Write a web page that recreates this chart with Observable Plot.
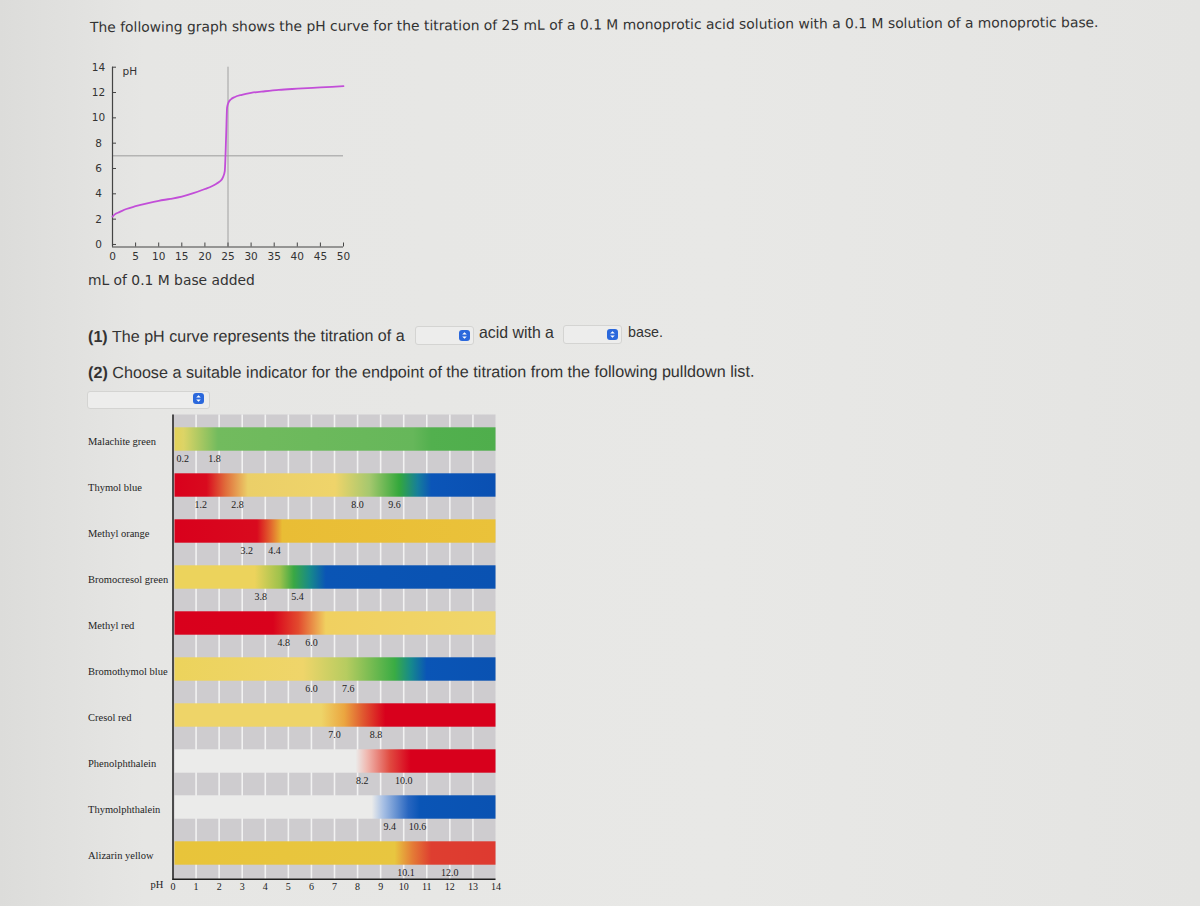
<!DOCTYPE html>
<html>
<head>
<meta charset="utf-8">
<script src="https://cdn.jsdelivr.net/npm/d3@7"></script>
<script src="https://cdn.jsdelivr.net/npm/@observablehq/plot@0.6"></script>
<style>
  html, body { margin: 0; padding: 0; }
  body { width: 1200px; height: 906px; position: relative; overflow: hidden;
         background: linear-gradient(90deg, #dcdcda 0%, #e6e6e4 12%, #e8e8e6 60%, #e4e4e2 100%);
         font-family: "DejaVu Sans", sans-serif; color: #333; }
  .abs { position: absolute; white-space: nowrap; line-height: 1.15; }
  .q { font-family: "Liberation Sans", "Open Sans", sans-serif; color: #333; }
  .box { position: absolute; background: #ededec; border: 1px solid #d4d4d2; border-radius: 3px; }
  .icon { position: absolute; width: 11px; height: 11px; background: #2b68dc; border-radius: 3px; }
  .icon svg { display: block; }
</style>
</head>
<body>
<script>
// ---------------- data ----------------
const titleText = "The following graph shows the pH curve for the titration of 25 mL of a 0.1 M monoprotic acid solution with a 0.1 M solution of a monoprotic base.";
const xAxisTitle = "mL of 0.1 M base added";
const question1a = "The pH curve represents the titration of a";
const question1b = "acid with a";
const question1c = "base.";
const question2 = "Choose a suitable indicator for the endpoint of the titration from the following pulldown list.";

// titration curve
const volumeMl = [0, 0.5, 1.5, 3, 5, 7.5, 10, 12.5, 15, 17.5, 20, 21.5, 22.5, 23.3, 23.9, 24.3, 24.6, 24.8, 25.1, 25.6, 26.5, 28, 30, 33, 36, 40, 45, 50];
const phValues = [2.2, 2.38, 2.55, 2.8, 3.02, 3.25, 3.45, 3.6, 3.78, 4.05, 4.38, 4.6, 4.8, 5.0, 5.3, 5.8, 8.6, 10.8, 11.2, 11.45, 11.65, 11.82, 11.97, 12.1, 12.21, 12.3, 12.4, 12.5];
const curveXTicks = [0, 5, 10, 15, 20, 25, 30, 35, 40, 45, 50];
const curveYTicks = [0, 2, 4, 6, 8, 10, 12, 14];
const equivalenceVolume = [25];
const neutralPh = [7];

// indicator chart
const indicatorNames = ["Malachite green", "Thymol blue", "Methyl orange", "Bromocresol green", "Methyl red",
  "Bromothymol blue", "Cresol red", "Phenolphthalein", "Thymolphthalein", "Alizarin yellow"];
const transitionPoints = [[0.2, 1.8], [1.2, 2.8, 8.0, 9.6], [3.2, 4.4], [3.8, 5.4], [4.8, 6.0],
  [6.0, 7.6], [7.0, 8.8], [8.2, 10.0], [9.4, 10.6], [10.1, 12.0]];
const colorStops = [
  [[0, "#e4d25a"], [0.4, "#dcd466"], [1.9, "#72bb5e"], [10.4, "#66b75a"], [11.2, "#52b04e"], [14, "#4fae4c"]],
  [[0, "#d9001c"], [1.4, "#d90a1e"], [2.2, "#e06a3a"], [3.2, "#ebcf68"], [7.0, "#efd46a"], [8.5, "#a6c86e"], [9.8, "#34a83c"], [10.6, "#167f9a"], [11.2, "#0b55b8"], [14, "#0a50b2"]],
  [[0, "#d9001c"], [3.6, "#d90a1e"], [4.2, "#e2662e"], [4.7, "#e9bd35"], [14, "#eac23a"]],
  [[0, "#ecd35c"], [3.5, "#ecd35c"], [4.6, "#9ec24c"], [5.2, "#3aa844"], [5.9, "#178a8a"], [6.6, "#0a55b5"], [14, "#0a52b2"]],
  [[0, "#d9001c"], [4.3, "#d9021c"], [5.4, "#e24a2e"], [6.6, "#f0d060"], [14, "#f0d66a"]],
  [[0, "#ecd35c"], [5.6, "#efd56a"], [7.5, "#b6cc60"], [9.6, "#3aac44"], [10.3, "#168a8c"], [11.0, "#0a55b6"], [14, "#0a52b2"]],
  [[0, "#eed468"], [6.4, "#eed468"], [7.4, "#eba640"], [8.2, "#e05a30"], [9.2, "#d8001c"], [14, "#d8001c"]],
  [[0, "#ebebea"], [7.9, "#ebebea"], [8.4, "#f0b8b0"], [9.4, "#e04a40"], [10.3, "#d8001c"], [14, "#d8001c"]],
  [[0, "#ebebea"], [8.6, "#ebebea"], [9.1, "#a8c0e4"], [10.2, "#2866c0"], [10.7, "#0a55b6"], [14, "#0a52b2"]],
  [[0, "#e8c43a"], [9.6, "#e8c640"], [10.4, "#e47a36"], [11.2, "#de3e30"], [14, "#de3a30"]]
];
const phTicks = [0, 1, 2, 3, 4, 5, 6, 7, 8, 9, 10, 11, 12, 13, 14];

// ---------------- helpers ----------------
function placeText(html, cls, left, cy, width, rot) {
  const el = document.createElement("div");
  el.className = "abs " + cls;
  el.innerHTML = html;
  el.style.left = left + "px";
  el.style.top = "0px";
  el.style.fontSize = "14px";
  document.body.appendChild(el);
  const w = el.getBoundingClientRect().width;
  el.style.fontSize = (14 * width / w) + "px";
  const h = el.getBoundingClientRect().height;
  el.style.top = (cy - h / 2) + "px";
  if (rot) { el.style.transformOrigin = "left center"; el.style.transform = `rotate(${rot}deg)`; }
  return el;
}
function dropdown(left, top, w, h, iconLeft, iconTop) {
  const b = document.createElement("div");
  b.className = "box";
  Object.assign(b.style, {left: left + "px", top: top + "px", width: w + "px", height: h + "px"});
  document.body.appendChild(b);
  const ic = document.createElement("div");
  ic.className = "icon";
  Object.assign(ic.style, {left: iconLeft + "px", top: iconTop + "px"});
  ic.innerHTML = '<svg width="11" height="11" viewBox="0 0 11 11"><path d="M3.2 4.6 L5.5 2.3 L7.8 4.6 Z M3.2 6.4 L5.5 8.7 L7.8 6.4 Z" fill="white"/></svg>';
  document.body.appendChild(ic);
}

// ---------------- texts ----------------
placeText(titleText, "", 90, 28, 1010, -0.28);
placeText(xAxisTitle, "", 88, 281, 167);
placeText("<b>(1)</b> " + question1a, "q", 88, 336, 317, -0.2);
placeText(question1b, "q", 479, 333, 75);
placeText(question1c, "q", 628, 332, 35);
placeText("<b>(2)</b> " + question2, "q", 88, 372, 667, -0.1);
dropdown(415, 326, 57, 17, 459, 330);
dropdown(563, 325, 57, 17, 607, 329);
dropdown(87, 391, 121, 16, 193, 393);

// ---------------- titration curve ----------------
const curve = volumeMl.map((v, i) => ({ml: v, ph: phValues[i]}));
const c1 = {left: 60, top: 50, width: 310, height: 220, ml: 52, mr: 27, mt: 16.7, mb: 23.5};
const c1InnerW = c1.width - c1.ml - c1.mr;
const c1InnerH = c1.height - c1.mt - c1.mb;
const yDom = [-0.2, 14];
const chart1 = Plot.plot({
  width: c1.width, height: c1.height,
  marginLeft: c1.ml, marginRight: c1.mr, marginTop: c1.mt, marginBottom: c1.mb,
  x: {domain: [0, 50]},
  y: {domain: yDom},
  style: {background: "transparent", fontFamily: "DejaVu Sans, sans-serif", fontSize: "10.5px", color: "#333"},
  marks: [
    Plot.ruleY(neutralPh, {stroke: "#9c9c9c", strokeWidth: 1}),
    Plot.ruleX(equivalenceVolume, {stroke: "#a0a0a0", strokeWidth: 1}),
    Plot.ruleX([0], {stroke: "#444", strokeWidth: 1.2}),
    Plot.ruleY([yDom[0]], {stroke: "#444", strokeWidth: 1.2}),
    Plot.tickX(curveXTicks, {x: d => d, insetTop: c1InnerH - 4, stroke: "#444"}),
    Plot.tickY(curveYTicks, {y: d => d, insetRight: c1InnerW - 4, stroke: "#444"}),
    Plot.axisX(curveXTicks, {tickSize: 0, tickPadding: 6, label: null, fill: "#333"}),
    Plot.axisY(curveYTicks, {tickSize: 0, tickPadding: 14, textAnchor: "middle", label: null, fill: "#333"}),
    Plot.text(["pH"], {frameAnchor: "top-left", dx: 10, textAnchor: "start", fill: "#333"}),
    Plot.line(curve, {x: "ml", y: "ph", stroke: "#c24ed8", strokeWidth: 1.8, curve: "monotone-x"})
  ]
});
Object.assign(chart1.style, {position: "absolute", left: c1.left + "px", top: c1.top + "px"});
document.body.appendChild(chart1);

// ---------------- indicator chart ----------------
const indicators = indicatorNames.map((name, i) => ({name, stops: colorStops[i]}));
const transitionLabels = indicatorNames.flatMap((name, i) => transitionPoints[i].map(v => ({name, v})));
const c2 = {left: 80, top: 400, width: 430, height: 506, ml: 92.5, mr: 14.5, mt: 14.5, mb: 26};
const c2InnerH = c2.height - c2.mt - c2.mb;
const serif = "Liberation Serif, DejaVu Serif, serif";
const chart2 = Plot.plot({
  width: c2.width, height: c2.height,
  marginLeft: c2.ml, marginRight: c2.mr, marginTop: c2.mt, marginBottom: c2.mb,
  x: {domain: [0, 14]},
  y: {domain: indicatorNames, range: [14.5, 476.5], padding: 0, axis: null},
  style: {background: "transparent", fontFamily: serif, fontSize: "10.5px", color: "#222"},
  marks: [
    Plot.rect([0], {x1: 0, x2: 14, fill: "#cecccf"}),
    Plot.ruleX(phTicks.slice(1, -1), {stroke: "#f2f2f2", strokeWidth: 1.6}),
    ...indicators.map((d, i) => Plot.barX([d], {x1: 0, x2: 14, y: "name", insetTop: 11.3, insetBottom: 11.3, insetLeft: 2, fill: `url(#ind-grad-${i})`})),
    Plot.text(transitionLabels.filter(d => d.v >= 0.5), {x: "v", y: "name", dy: 19.5, text: d => d.v.toFixed(1), fill: "#222", fontSize: 10}),
    Plot.text(transitionLabels.filter(d => d.v < 0.5), {x: "v", y: "name", dy: 19.5, dx: -1, textAnchor: "start", text: d => d.v.toFixed(1), fill: "#222", fontSize: 10}),
    Plot.text(indicators, {y: "name", text: "name", frameAnchor: "left", dx: -85, dy: 2, textAnchor: "start", fill: "#1e1e1e", fontSize: 10.5}),
    Plot.ruleX([0], {stroke: "#1e1e1e", strokeWidth: 1.5}),
    Plot.rect([0], {x1: 0, x2: 14, insetTop: c2InnerH - 1.5, fill: "#1e1e1e"}),
    Plot.axisX(phTicks, {tickSize: 0, tickPadding: 2, label: null, fill: "#222", fontSize: 10}),
    Plot.text(["pH"], {frameAnchor: "bottom-left", dx: -16, dy: 7, textAnchor: "middle", fill: "#222", fontSize: 10.5})
  ]
});
const defs = d3.select(chart2).insert("defs", ":first-child");
indicators.forEach((d, i) => {
  const g = defs.append("linearGradient").attr("id", `ind-grad-${i}`)
    .attr("x1", 0).attr("x2", 1).attr("y1", 0).attr("y2", 0);
  d.stops.forEach(([p, c]) => g.append("stop").attr("offset", p / 14).attr("stop-color", c));
});
Object.assign(chart2.style, {position: "absolute", left: c2.left + "px", top: c2.top + "px"});
document.body.appendChild(chart2);
</script>
</body>
</html>
